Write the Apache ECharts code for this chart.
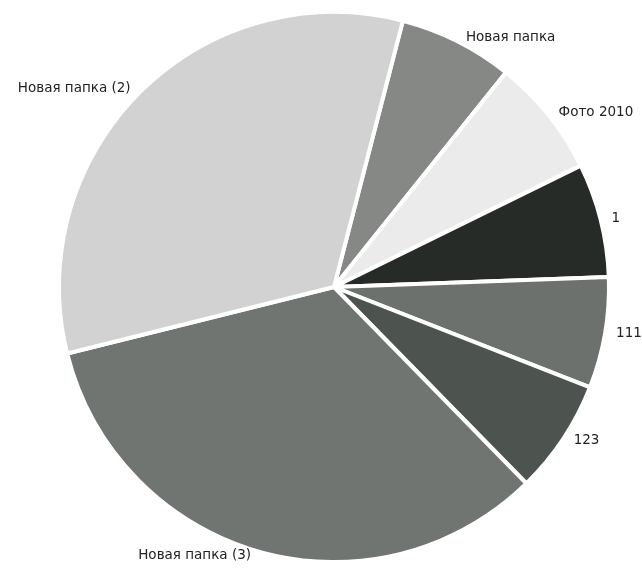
<!DOCTYPE html>
<html><head><meta charset="utf-8">
<script src="https://cdn.jsdelivr.net/npm/echarts@6/dist/echarts.min.js"></script>
<style>html,body{margin:0;padding:0;background:#fff}#c{width:642px;height:577px}</style>
</head><body><div id="c"></div>
<script>
const categories = ['Новая папка', 'Фото 2010', '1', '111', '123', 'Новая папка (3)', 'Новая папка (2)'];
const values = [24.2, 25.1, 24.1, 23.5, 24.2, 120.4, 118.5];
const colors = ['#858885', '#ebebeb', '#272b28', '#6c716d', '#4d5450', '#707571', '#d2d2d2'];

const chart = echarts.init(document.getElementById('c'));
chart.setOption({
  animation: false,
  backgroundColor: '#ffffff',
  series: [{
    type: 'pie',
    center: [334, 287],
    radius: 275,
    startAngle: 75.5,
    clockwise: true,
    avoidLabelOverlap: false,
    data: categories.map((n, i) => ({ name: n, value: values[i], itemStyle: { color: colors[i] } })),
    itemStyle: { borderColor: '#ffffff', borderWidth: 4 },
    label: {
      show: true, position: 'outside', color: '#222',
      fontFamily: 'DejaVu Sans', fontSize: 13.5, overflow: 'none'
    },
    labelLine: { show: false, length: 4, length2: 2 },
    labelLayout: { hideOverlap: false }
  }]
});
</script></body></html>
